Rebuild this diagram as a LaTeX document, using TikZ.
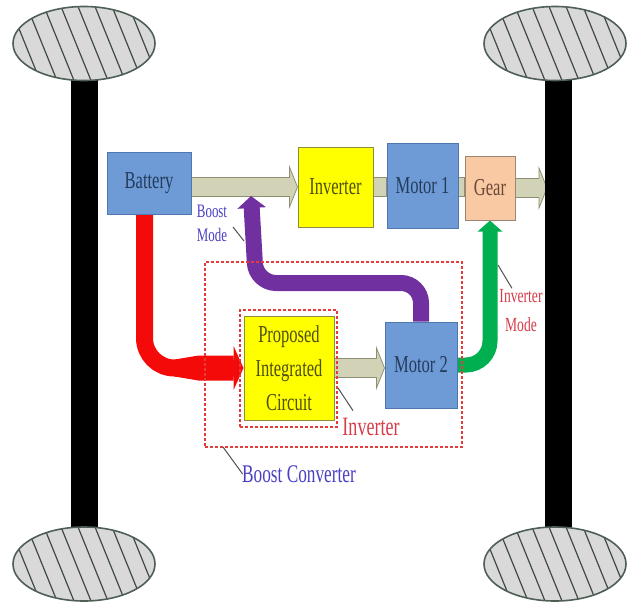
\documentclass[tikz,border=0pt]{standalone}
\usepackage{fontspec}
\setmainfont{Liberation Serif}[FakeStretch=0.68]
\usetikzlibrary{arrows.meta,calc}
\pgfdeclarelayer{bg}
\pgfsetlayers{bg,main}
\definecolor{boxblue}{HTML}{6E9BD6}
\definecolor{boxblueedge}{HTML}{5077B0}
\definecolor{boxyellow}{HTML}{FFFF00}
\definecolor{yellowedge}{HTML}{8C8C3C}
\definecolor{gearfill}{HTML}{F8C9A2}
\definecolor{gearedge}{HTML}{9C8572}
\definecolor{shaftfill}{HTML}{D2D2B6}
\definecolor{shaftedge}{HTML}{8E8E72}
\definecolor{arrred}{HTML}{F50A0A}
\definecolor{arrpurple}{HTML}{7030A0}
\definecolor{arrgreen}{HTML}{00B050}
\definecolor{lblblue}{HTML}{4A3FC4}
\definecolor{lblred}{HTML}{D63C48}
\definecolor{dashred}{HTML}{E53B3B}
\definecolor{wheelfill}{HTML}{D9D9D9}
\definecolor{wheeledge}{HTML}{4F5F55}
\definecolor{hatchcol}{HTML}{3E4A42}
\definecolor{txtblue}{HTML}{243C5C}
\definecolor{txtolive}{HTML}{4F4F14}
\definecolor{txtbrown}{HTML}{6B4A38}
\definecolor{leadercol}{HTML}{505050}
\newcommand\shaftarrow[2]{%
  \filldraw[shaftstyle] ($(#1)+(0,-9.5)$) -- ($(#2)+(-8,-9.5)$) -- ($(#2)+(-8,-20)$) -- (#2)
    -- ($(#2)+(-8,20)$) -- ($(#2)+(-8,9.5)$) -- ($(#1)+(0,9.5)$) -- cycle;}
\newcommand\shaftbar[2]{%
  \filldraw[shaftstyle] ($(#1)+(0,-9.5)$) rectangle ($(#2)+(0,9.5)$);}
\newcommand\wheelat[2]{%
  \begin{scope}
    \clip (#1,#2) ellipse (71 and 37);
    \fill[wheelfill] (#1,#2) ellipse (71 and 37);
    \foreach \k in {-6,...,5} {
      \draw[hatchcol, line width=1.2pt] ($(#1,#2)+(\k*17-8,-42)$) -- ++(34,84);
    }
  \end{scope}
  \draw[wheeledge, line width=1.6pt] (#1,#2) ellipse (71 and 37);}
\begin{document}
\begin{tikzpicture}[x=1pt,y=-1pt,
  box/.style={draw, line width=1pt, inner sep=0pt, align=center, font=\fontsize{24.3}{28}\selectfont},
  bluebox/.style={box, fill=boxblue, draw=boxblueedge, text=txtblue},
  yellowbox/.style={box, fill=boxyellow, draw=yellowedge, text=txtolive},
  gearbox/.style={box, fill=gearfill, draw=gearedge, text=txtbrown},
  shaftstyle/.style={fill=shaftfill, draw=shaftedge, line width=0.8pt},
  dashbox/.style={draw=dashred, line width=2pt, dash pattern=on 3pt off 2pt, inner sep=0pt},
  leader/.style={draw=leadercol, line width=1pt},
  flowred/.style={draw=arrred, line width=17pt, rounded corners=30pt, -{Triangle[width=44pt,length=10pt]}},
  flowpurple/.style={draw=arrpurple, line width=16pt, rounded corners=20pt, -{Triangle[width=28pt,length=12pt]}},
  flowgreen/.style={draw=arrgreen, line width=15pt, rounded corners=24pt, -{Triangle[width=24pt,length=11pt]}},
]
\useasboundingbox (0,0) rectangle (628,602);
% axles
\fill[black] (71,78) rectangle (98,530);
\fill[black] (545,78) rectangle (572,530);
% wheels
\wheelat{84}{43.5}
\wheelat{555}{43.5}
\wheelat{84}{564}
\wheelat{555}{564}
% boxes
\node[bluebox, minimum width=84pt, minimum height=62pt] (bat) at (149,183) {Battery};
\node[yellowbox, minimum width=75pt, minimum height=80pt] (inv) at (335.5,187) {Inverter};
\node[bluebox, minimum width=71pt, minimum height=85pt] (mot1) at (422.5,185.5) {Motor 1};
\node[gearbox, minimum width=50pt, minimum height=64pt] (gear) at (490,188) {Gear};
\node[yellowbox, minimum width=90pt, minimum height=104pt, font=\fontsize{24.3}{34}\selectfont] (pic) at (289,368) {Proposed\\Integrated\\Circuit};
\node[bluebox, minimum width=72pt, minimum height=86pt] (mot2) at (421,365) {Motor 2};
% dashed boxes
\node[dashbox, minimum width=97pt, minimum height=117pt] (innerbox) at (288.5,368.5) {};
\node[dashbox, minimum width=257pt, minimum height=185pt] (outerbox) at (333.5,354.5) {};
% labels
\node[text=lblblue, font=\fontsize{19}{24}\selectfont, align=center] (bml) at (212,223) {Boost\\Mode};
\node[text=lblred, font=\fontsize{20}{29}\selectfont, align=center] (iml) at (521,311) {Inverter\\Mode};
\node[text=lblred, font=\fontsize{26.5}{30}\selectfont] (invl) at (371,427) {Inverter};
\node[text=lblblue, font=\fontsize{25.4}{30}\selectfont] (bcl) at (299,474) {Boost Converter};
% coordinates
\coordinate (s1) at (bat.east |- inv.west);
\coordinate (out) at (547,188);
\coordinate (bm) at (251,196);
\coordinate (rs) at ([xshift=-4.5pt]bat.south);
\coordinate (s2) at (mot2.west |- pic.east);
\coordinate (bmend) at (244,241);
\coordinate (bmstart) at (233,227);
\coordinate (imend) at (498,265);
\coordinate (invend) at (338,388);
\coordinate (bcend) at (223,447);
\begin{pgfonlayer}{bg}
  \shaftarrow{s1}{inv.west}
  \shaftbar{inv.east}{mot1.west |- inv.east}
  \shaftbar{mot1.east |- inv.east}{gear.west |- inv.east}
  \shaftarrow{gear.east}{out}
  \shaftarrow{pic.east}{s2}
  \draw[flowred] (rs) |- (pic.west);
  \fill[arrred] ($(pic.west)+(-69,-8.5)$) -- ($(pic.west)+(-45,-12.5)$) -- ($(pic.west)+(-10,-12.5)$)
    -- ($(pic.west)+(-10,12.5)$) -- ($(pic.west)+(-45,12.5)$) -- ($(pic.west)+(-69,8.5)$) -- cycle;
  \draw[flowpurple] (mot2.north) |- ($(bm)+(5,87)$) -- (bm);
  \draw[flowgreen] (mot2.east) -| (gear.south);
\end{pgfonlayer}
% leaders
\draw[leader] (bmstart) -- (bmend);
\draw[leader] (imend) -- ([xshift=-9pt,yshift=-2pt]iml.north);
\draw[leader] (invend) -- ([xshift=-18pt,yshift=4pt]invl.north);
\draw[leader] (bcend) -- ([xshift=4pt]bcl.west);
\end{tikzpicture}
\end{document}
